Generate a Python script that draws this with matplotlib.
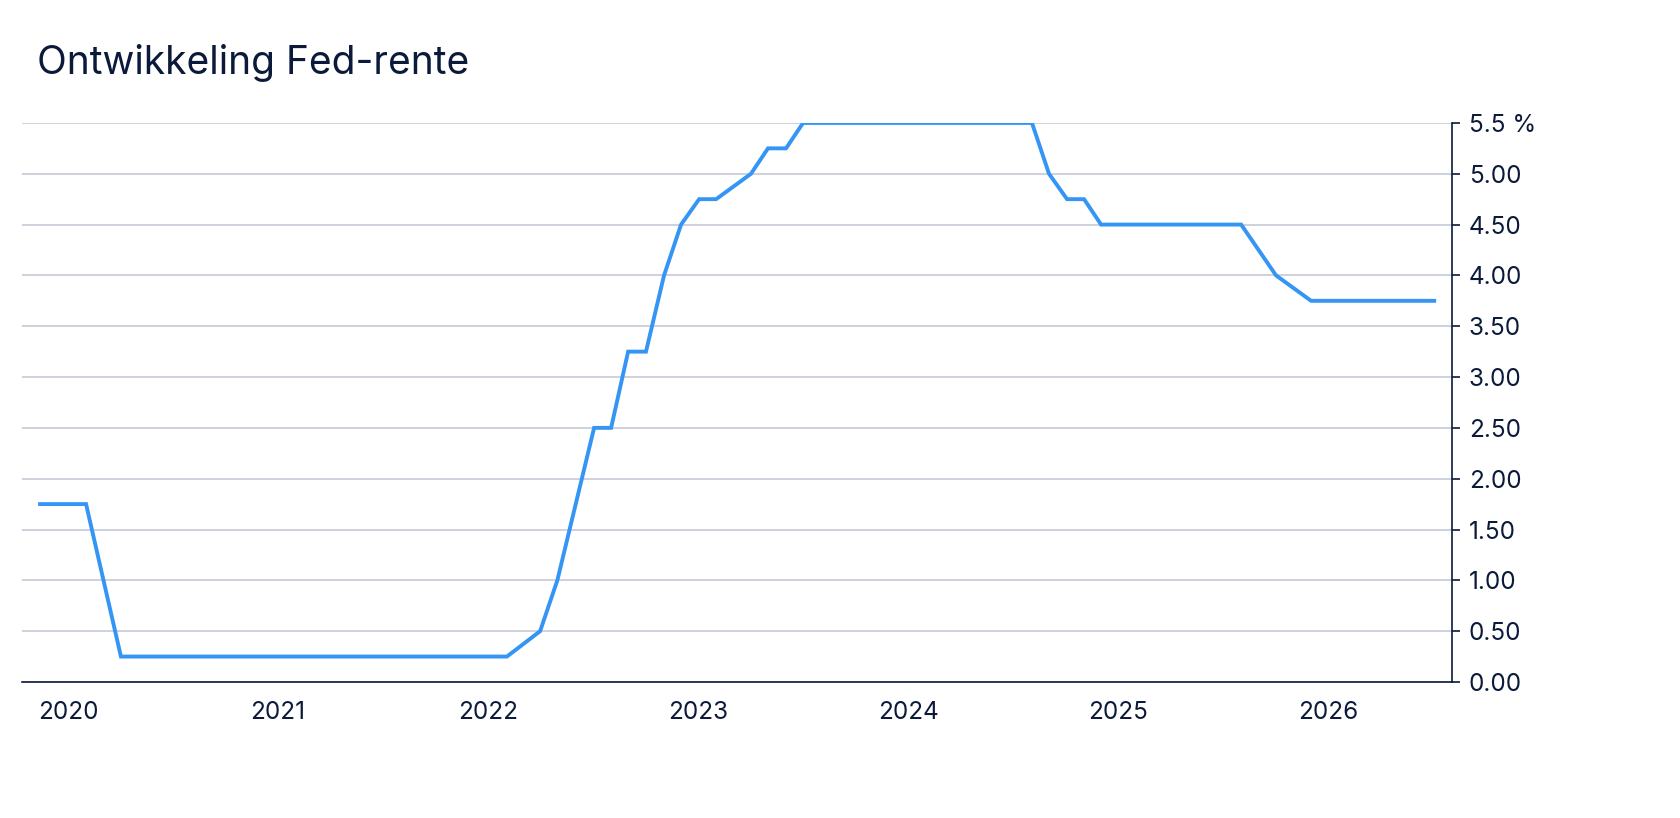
import matplotlib
matplotlib.use("Agg")
import matplotlib.pyplot as plt

years = [2019.867, 2020.086, 2020.252, 2022.09, 2022.248, 2022.33, 2022.505, 2022.586,
         2022.667, 2022.752, 2022.838, 2022.919, 2023.005, 2023.086, 2023.252, 2023.333,
         2023.419, 2023.5, 2024.59, 2024.671, 2024.757, 2024.838, 2024.919, 2025.586,
         2025.752, 2025.919, 2026.505]
rates = [1.75, 1.75, 0.25, 0.25, 0.5, 1.0, 2.5, 2.5, 3.25, 3.25, 4.0, 4.5, 4.75, 4.75,
         5.0, 5.25, 5.25, 5.5, 5.5, 5.0, 4.75, 4.75, 4.5, 4.5, 4.0, 3.75, 3.75]
yticks = [0, 0.5, 1, 1.5, 2, 2.5, 3, 3.5, 4, 4.5, 5, 5.5]
ylabels = ["0.00", "0.50", "1.00", "1.50", "2.00", "2.50", "3.00", "3.50", "4.00", "4.50", "5.00", "5.5 %"]
xticks = [2020, 2021, 2022, 2023, 2024, 2025, 2026]

plt.rcParams['font.family'] = ['Inter', 'DejaVu Sans']
navy = "#0b1a3a"
fig = plt.figure(figsize=(16.8, 8.18), dpi=100)
ax = fig.add_axes([0.0131, 0.1663, 0.8512, 0.6834])
ax.plot(years, rates, color="#3595f5", lw=2.8, solid_joinstyle="miter")
ax.set_xlim(2019.781, 2026.59)
ax.set_ylim(0, 5.5)
ax.set_yticks(yticks)
ax.set_yticklabels(ylabels)
ax.set_xticks(xticks)
ax.set_xticklabels([str(x) for x in xticks])
ax.yaxis.tick_right()
ax.grid(axis="y", color="#c5c9d6", lw=1.2)
ax.set_axisbelow(True)
for s in ["top", "left"]:
    ax.spines[s].set_visible(False)
for s in ["bottom", "right"]:
    ax.spines[s].set_color(navy)
    ax.spines[s].set_linewidth(1.2)
ax.tick_params(axis="y", colors=navy, labelsize=17.5, length=6, width=1.2, pad=6)
ax.tick_params(axis="x", colors=navy, labelsize=17.5, length=0, pad=14)
fig.text(0.022, 0.923, "Ontwikkeling Fed-rente", fontsize=28, color=navy, va="center")
fig.savefig("out.png", dpi=100, facecolor="white")
